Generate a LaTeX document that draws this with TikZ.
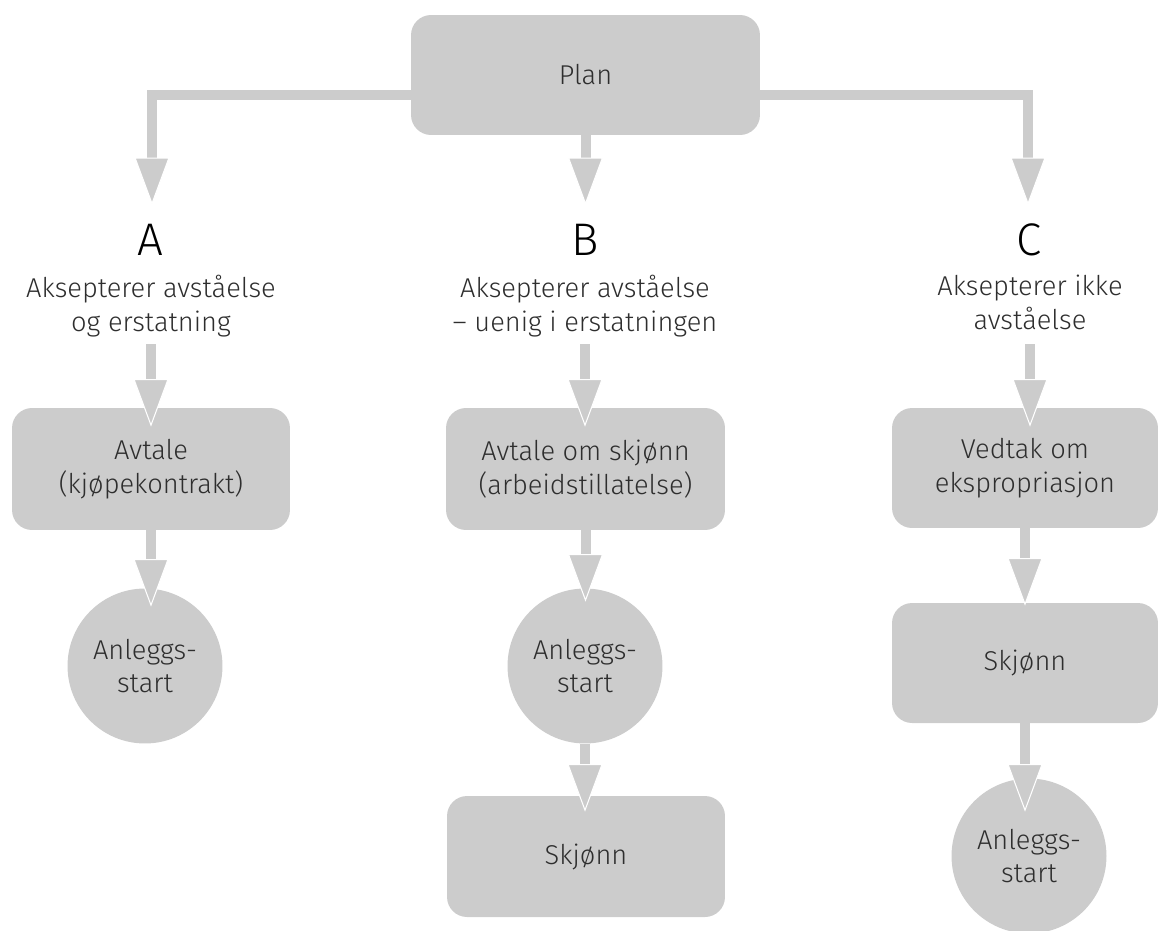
\documentclass[tikz,border=0pt]{standalone}
\usepackage{fontspec}
\setmainfont{Fira Sans}[UprightFont={* Light}]
\usetikzlibrary{arrows.meta}

\definecolor{flowgrey}{HTML}{CCCCCC}
\definecolor{textgrey}{HTML}{2E2E2E}

\begin{document}
\begin{tikzpicture}[x=0.02cm,y=-0.02cm,font=\fontsize{15.5}{19.3}\selectfont,text=textgrey,
	box/.style={rectangle,rounded corners=0.4cm,fill=flowgrey,align=center,minimum width=5.56cm,minimum height=2.44cm},
	disc/.style={circle,fill=flowgrey,align=center,minimum size=3.1cm,inner sep=0pt},
	case/.style={font=\fontsize{26}{30}\selectfont,text=black,inner sep=0pt,anchor=base},
	caption/.style={align=center,inner sep=0pt,anchor=north},
	flow/.style={line width=0.2cm,draw=flowgrey,-{Triangle[length=0.95cm,width=0.7cm,color=white,fill=flowgrey,line width=0.6pt]}}]

	\useasboundingbox (0,0) rectangle (1159,930);

	% plan
	\node [box,minimum width=6.98cm,minimum height=2.4cm] (plan) at (585.5,75) {Plan};

	% the three cases
	\node [case] (caseA) at (150,255) {A};
	\node [case] (caseB) at (585,255) {B};
	\node [case] (caseC) at (1029,255) {C};
	\node [caption] (descA) at (151,275) {Aksepterer avståelse\\og erstatning};
	\node [caption] (descB) at (585,275) {Aksepterer avståelse\\– uenig i erstatningen};
	\node [caption] (descC) at (1030,275) {Aksepterer ikke\\avståelse};

	% column A
	\node [box] (avtaleA) at (151,469) {Avtale\\(kjøpekontrakt)};
	\node [disc] (startA) at (145,666) {Anleggs-\\start};

	% column B
	\node [box,minimum width=5.58cm] (avtaleB) at (585.5,469) {Avtale om skjønn\\(arbeidstillatelse)};
	\node [disc] (startB) at (585,666) {Anleggs-\\start};
	\node [box,minimum height=2.42cm] (skjonnB) at (586,856.5) {Skjønn};

	% column C
	\node [box,minimum width=5.32cm,minimum height=2.4cm] (vedtakC) at (1025,468) {Vedtak om\\ekspropriasjon};
	\node [box,minimum width=5.32cm,minimum height=2.4cm] (skjonnC) at (1025,663) {Skjønn};
	\node [disc] (startC) at (1029,856) {Anleggs-\\start};

	% arrows out of the plan
	\coordinate (tipA) at (152,205);
	\coordinate (tipB) at (585.5,205);
	\coordinate (tipC) at (1028,205);
	\draw [flow] ([yshift=-0.4cm]plan.west) -| (tipA);
	\draw [flow] (plan.south) -- (tipB);
	\draw [flow] ([yshift=-0.4cm]plan.east) -| (tipC);

	% arrows down each column
	\foreach \from/\to/\gap/\over in {descA/avtaleA/0.13/0.38, avtaleA/startA/0/0.37,
			descB/avtaleB/0.13/0.38, avtaleB/startB/0/0.27, startB/skjonnB/0/0.32,
			descC/vedtakC/0.28/0.38, vedtakC/skjonnC/0/0.06, skjonnC/startC/0/0.67}
		\draw [flow,shorten <=\gap cm,shorten >=-\over cm] (\from.south) -- (\from.south |- \to.north);
\end{tikzpicture}
\end{document}
